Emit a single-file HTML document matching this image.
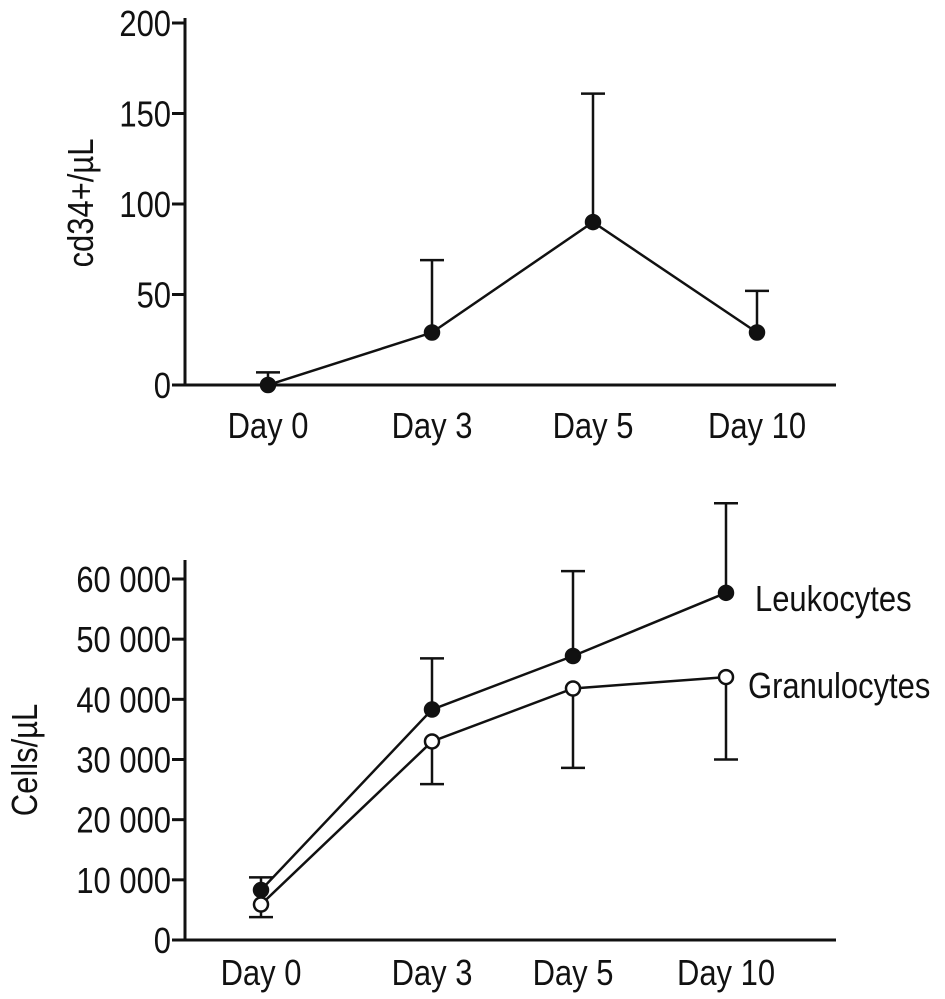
<!DOCTYPE html>
<html><head><meta charset="utf-8"><style>
body{margin:0;background:#fff}
svg{display:block;font-family:"Liberation Sans",sans-serif}
text{font-size:36px;fill:#111}
</style></head><body>
<svg id="c" width="945" height="999" viewBox="0 0 945 999"></svg>
<script>
const days=["Day 0","Day 3","Day 5","Day 10"];
const topX=[268,432,593,757];
const cd34=[0,29,90,29];
const cd34Err=[7,69,161,52];
const topTicks=[0,50,100,150,200];
const botX=[261,432,573,726];
const leuko=[8300,38300,47200,57700];
const leukoErr=[10400,46800,61300,72600];
const gran=[5900,33000,41800,43700];
const granErr=[3800,25900,28600,30000];
const botTicks=[0,10000,20000,30000,40000,50000,60000];
const botTickLabels=["0","10 000","20 000","30 000","40 000","50 000","60 000"];

const svg=document.getElementById('c');
const NS="http://www.w3.org/2000/svg";
const SX=0.86;
function el(t,a,p){const e=document.createElementNS(NS,t);for(const k in a)e.setAttribute(k,a[k]);(p||svg).appendChild(e);return e;}
function txt(x,y,s,anchor,p,rot){
  const tr=rot?`translate(${x},${y}) rotate(-90) scale(${SX},1)`:`translate(${x},${y}) scale(${SX},1)`;
  const t=el('text',{transform:tr,'text-anchor':anchor},p);t.textContent=s;return t;
}
const yTop=v=>385-v*(362/200);
const yBot=v=>940-v*(361/60000);

function axes(x0,x1,y0,y1,ticks,fy,labels,name){
  const g=el('g',{});
  
  
  el('line',{x1:x0,y1:y0,x2:x1,y2:y0,stroke:'#111','stroke-width':3},g);
  el('line',{x1:x0,y1:y0,x2:x0,y2:y1,stroke:'#111','stroke-width':3},g);
  ticks.forEach((t,i)=>{
    const y=fy(t);
    el('line',{x1:x0-13,y1:y,x2:x0,y2:y,stroke:'#111','stroke-width':3},g);
    const tx=txt(x0-14,y+13,labels[i],'end',g);
    
    
  });
}
function xlabels(xs,y){
  xs.forEach((x,i)=>{const t=txt(x,y,days[i],'middle');
    
    });
}
function series(xs,vals,errs,fy,fill,name){
  const g=el('g',{});
  
  
  xs.forEach((x,i)=>{
    el('line',{x1:x,y1:fy(vals[i]),x2:x,y2:fy(errs[i]),stroke:'#111','stroke-width':2.5},g);
    el('line',{x1:x-12,y1:fy(errs[i]),x2:x+12,y2:fy(errs[i]),stroke:'#111','stroke-width':2.5},g);
  });
  el('polyline',{points:xs.map((x,i)=>x+','+fy(vals[i])).join(' '),fill:'none',stroke:'#111','stroke-width':2.5},g);
  xs.forEach((x,i)=>{const c=el('circle',{cx:x,cy:fy(vals[i]),r:7,fill:fill,stroke:'#111','stroke-width':2.5},g);
    
    });
}
axes(185,836,385,18,topTicks,yTop,topTicks.map(String),'top-axes');
xlabels(topX,438);
series(topX,cd34,cd34Err,yTop,'#111','cd34-series');
axes(185,836,940,560,botTicks,yBot,botTickLabels,'bottom-axes');
xlabels(botX,985);
series(botX,leuko,leukoErr,yBot,'#111','leukocytes-series');
series(botX,gran,granErr,yBot,'#fff','granulocytes-series');
let t;
t=txt(93,203,'cd34+/µL','middle',svg,true);

t=txt(37,760,'Cells/µL','middle',svg,true);

t=txt(755,611,'Leukocytes','start');

t=txt(748,698,'Granulocytes','start');

</script>
</body></html>
